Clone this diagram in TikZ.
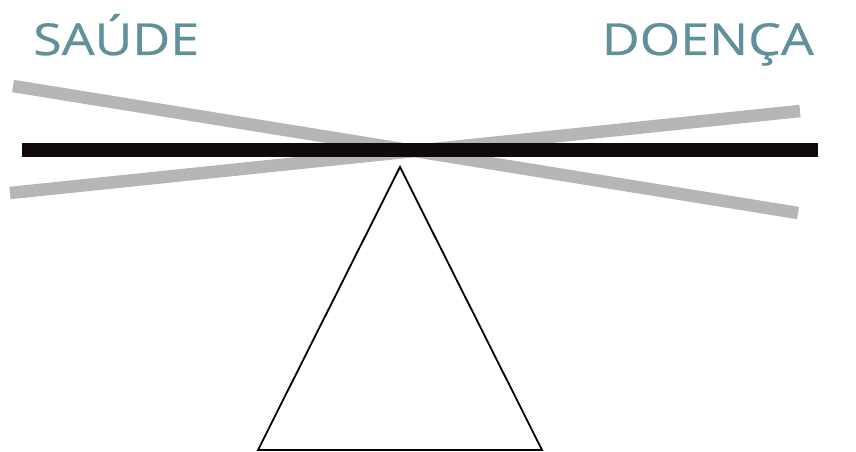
\documentclass[tikz,border=0pt]{standalone}
\usepackage{fontspec}
\setmainfont{Open Sans}[FakeStretch=1.18, FakeBold=0.6]
\definecolor{tealtext}{RGB}{96,145,155}
\definecolor{barblack}{RGB}{18,10,10}
\definecolor{bargray}{RGB}{182,182,182}
\tikzset{
  label/.style={anchor=base west, inner sep=0pt, text=tealtext, font=\fontsize{44}{44}\selectfont},
  graybar/.style={bargray, line width=12.5pt},
}
\begin{document}
\begin{tikzpicture}[x=1pt, y=-1pt]
    \useasboundingbox (0,0) rectangle (856,452);
    % Tilted bars behind
    \draw[graybar] (13,86) -- (798,213);
    \draw[graybar] (10,193) -- (800,111);
    % Level bar
    \draw[barblack, line width=14pt] (22,150) -- (818,150);

    % The pivot
    \coordinate (apex) at (400,167);
    \coordinate (left) at (258,450);
    \coordinate (right) at (542,450);
    \draw[line width=1.8pt, line join=miter] (apex) -- (left) -- (right) -- cycle;

    % Label the two sides
    \node[label] (saude) at (33,55) {SAÚDE};
    \node[label, anchor=base east] (doenca) at (814,55) {DOENÇA};
\end{tikzpicture}
\end{document}
